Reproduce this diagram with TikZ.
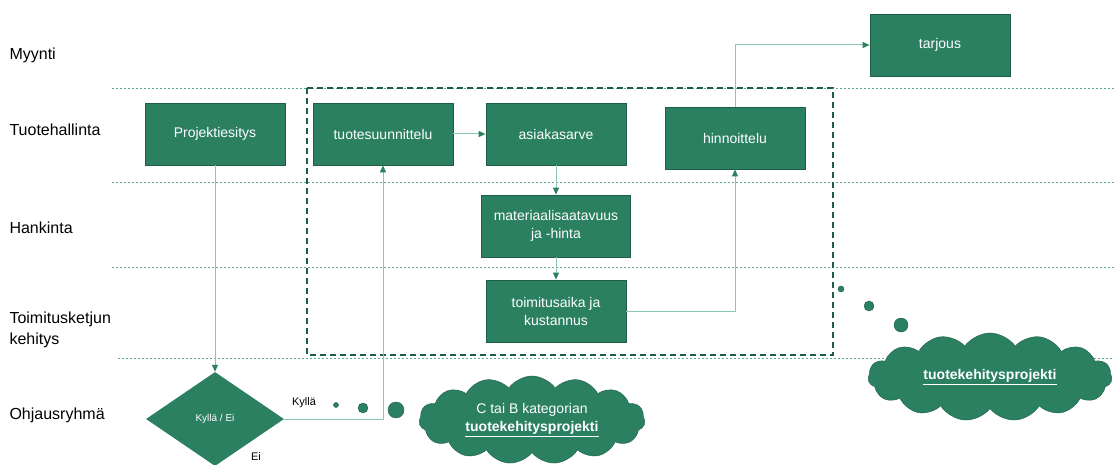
\documentclass[tikz,border=0pt]{standalone}
\usepackage{fontspec}
\setmainfont{Liberation Sans}
\usetikzlibrary{shapes.geometric, shapes.symbols, positioning, arrows.meta}

\definecolor{boxgreen}{RGB}{42,128,96}
\definecolor{edgegreen}{RGB}{30,94,68}
\definecolor{linegreen}{RGB}{140,200,176}
\definecolor{lanegreen}{RGB}{90,170,145}

\tikzset{
  task/.style={rectangle, draw=edgegreen, fill=boxgreen, line width=0.8pt, text=white,
    minimum width=140pt, minimum height=62pt, align=center, font=\fontsize{14}{18}\selectfont},
  decision/.style={diamond, fill=boxgreen, text=white, minimum width=138pt,
    minimum height=94pt, inner sep=0pt, font=\fontsize{10}{12}\selectfont},
  bubble/.style={cloud, cloud puffs=15, cloud puff arc=110, cloud ignores aspect, draw=edgegreen,
    fill=boxgreen, text=white, align=center, font=\fontsize{14}{18}\selectfont},
  lane/.style={anchor=west, align=left, font=\fontsize{16}{21}\selectfont},
  flow/.style={linegreen, line width=1pt, -{Triangle[length=7pt,width=6pt,color=boxgreen]}},
  divider/.style={lanegreen, line width=0.6pt, dash pattern=on 2pt off 2pt},
  dot/.style={circle, fill=boxgreen, draw=edgegreen, inner sep=0pt},
}

\begin{document}
\begin{tikzpicture}[x=1pt, y=-1pt]
            \useasboundingbox (0,0) rectangle (1114,465);

            % Lanes
            \node[lane] (myynti) at (6,55) {Myynti};
            \node[lane] (tuote) at (6,130) {Tuotehallinta};
            \node[lane] (hank) at (6,228) {Hankinta};
            \node[lane] (toimk) at (6,330) {Toimitusketjun\\kehitys};
            \node[lane] (ohj) at (6,415) {Ohjausryhmä};

            \draw[divider] (112,88) -- (1114,88);
            \draw[divider] (112,182) -- (1114,182);
            \draw[divider] (112,267) -- (1114,267);
            \draw[divider] (118,358) -- (1114,358);

            % Project scope
            \draw[edgegreen, line width=1.2pt, dash pattern=on 6pt off 4pt] (307,88) rectangle (833,355);

            % Tasks
            \node[task] (proj) at (215,134) {Projektiesitys};
            \node[task] (tsuun) at (383,134) {tuotesuunnittelu};
            \node[task] (asiak) at (556,134) {asiakasarve};
            \node[task] (hinn) at (735,138) {hinnoittelu};
            \node[task] (tarj) at (940,45) {tarjous};
            \node[task, minimum width=149pt] (mat) at (556,226) {materiaalisaatavuus\\ja -hinta};
            \node[task] (toim) at (556,311) {toimitusaika ja\\kustannus};
            \node[decision] (dec) at (215,419) {Kyllä / Ei};

            \node[font=\fontsize{11}{13}\selectfont] (kylla) at (304,403) {Kyllä};
            \node[font=\fontsize{11}{13}\selectfont] (ei) at (256,457) {Ei};

            % Thought bubbles
            \node[dot, minimum size=5pt] (d1) at (336,405) {};
            \node[dot, minimum size=10pt] (d2) at (363,408) {};
            \node[dot, minimum size=16pt] (d3) at (396,410) {};
            \node[bubble, minimum width=226pt, minimum height=88pt] (cat) at (532,420)
                {C tai B kategorian\\\underline{\textbf{tuotekehitysprojekti}}};
            \node[dot, minimum size=6pt] (d4) at (841,289) {};
            \node[dot, minimum size=10pt] (d5) at (869,306) {};
            \node[dot, minimum size=14pt] (d6) at (901,325) {};
            \node[bubble, minimum width=244pt, minimum height=88pt] (tkp) at (990,377)
                {\underline{\textbf{tuotekehitysprojekti}}};

            % Flow
            \draw[flow] (proj) -- (dec);
            \draw[flow] (dec.east) -| (tsuun.south);
            \draw[flow] (tsuun) -- (asiak);
            \draw[flow] (asiak) -- (mat);
            \draw[flow] (mat) -- (toim);
            \draw[flow] (toim.east) -| (hinn.south);
            \draw[flow] (hinn.north) |- (tarj.west);
        \end{tikzpicture}
\end{document}
